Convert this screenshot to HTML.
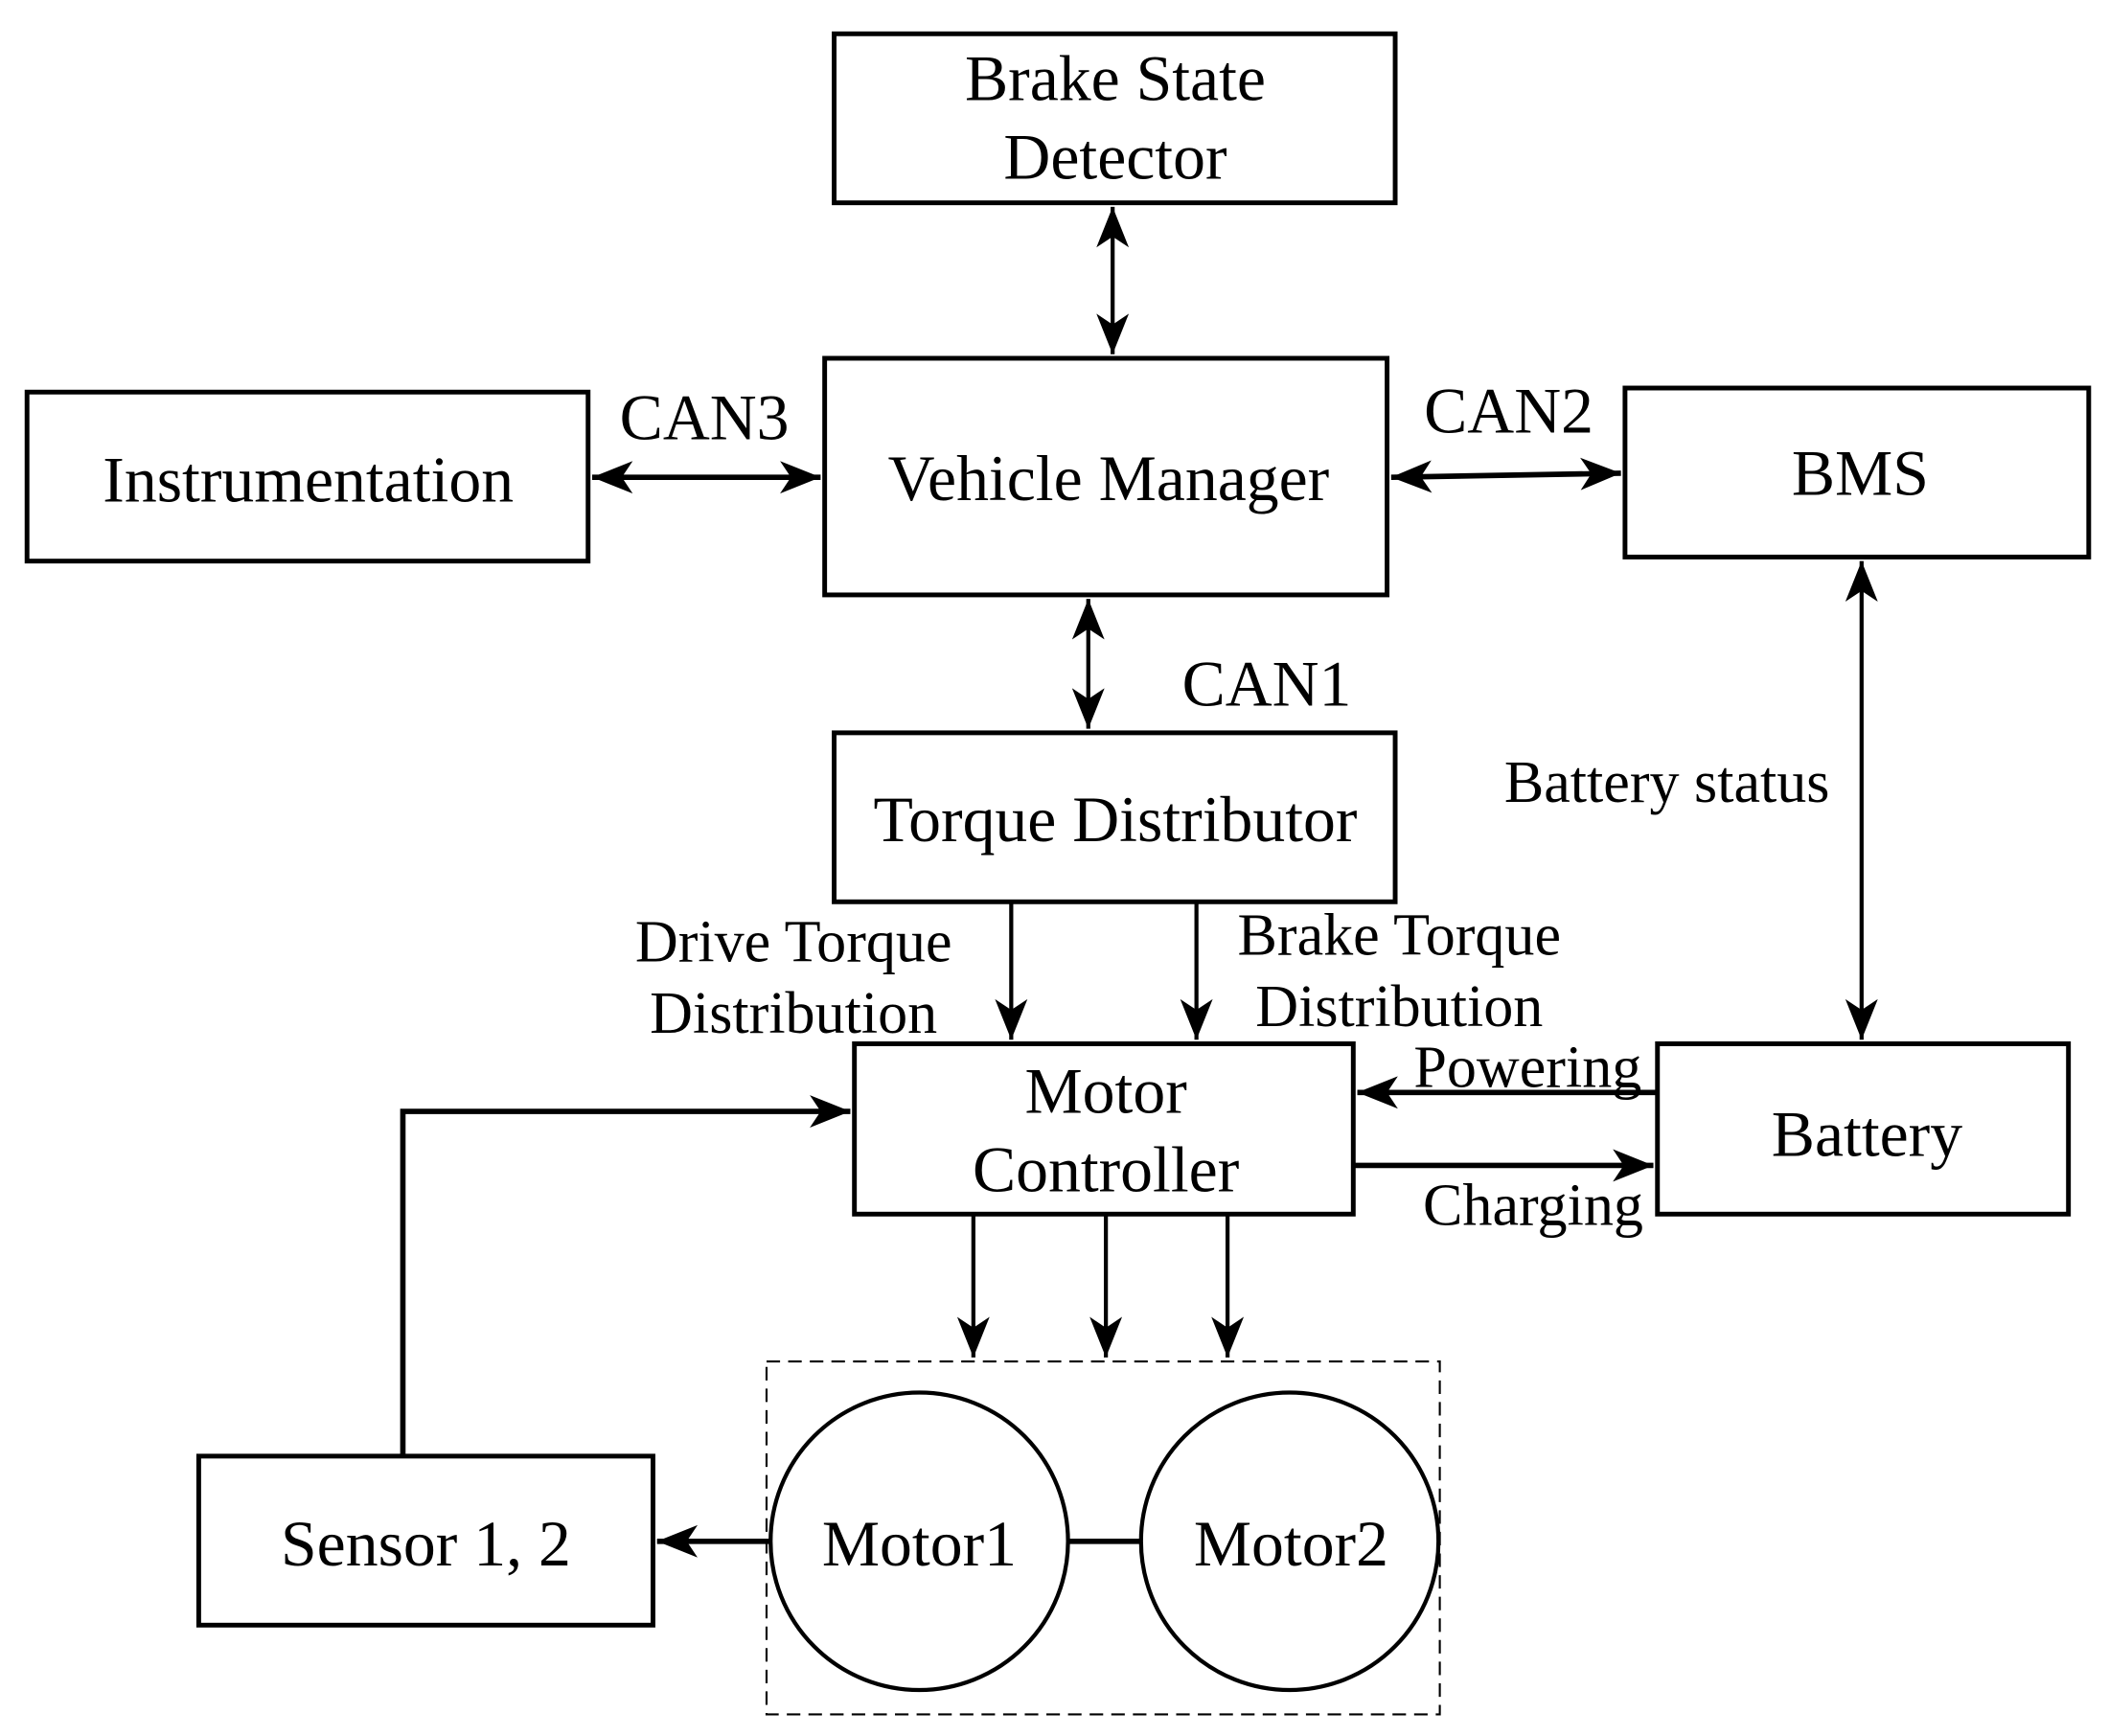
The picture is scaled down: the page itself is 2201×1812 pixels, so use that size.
<!DOCTYPE html>
<html><head><meta charset="utf-8"><style>
html,body{margin:0;padding:0;background:#fff;}
svg{display:block;}
text{font-family:"Liberation Serif",serif;fill:#000;text-anchor:middle;}
</style></head><body>
<svg width="2201" height="1812" viewBox="0 0 1560 1284" preserveAspectRatio="none" xmlns="http://www.w3.org/2000/svg">
<defs>
<marker id="a" viewBox="0 0 30 24" refX="30" refY="12" markerWidth="30" markerHeight="24" markerUnits="userSpaceOnUse" orient="auto-start-reverse">
<path d="M0,0 L30,12 L0,24 L8,12 z" fill="#000"/></marker>
</defs>
<g fill="none" stroke="#000" stroke-width="3.5">
<rect x="617" y="25" width="415" height="125"/>
<rect x="610" y="265" width="416" height="175"/>
<rect x="20" y="290" width="415" height="125"/>
<rect x="1202" y="287" width="343" height="125"/>
<rect x="617" y="542" width="415" height="125"/>
<rect x="632" y="772" width="369" height="126"/>
<rect x="1226" y="772" width="304" height="126"/>
<rect x="147" y="1077" width="336" height="125"/>
<circle cx="680" cy="1140" r="110" stroke-width="3"/>
<circle cx="954" cy="1140" r="110" stroke-width="3"/>
</g>
<rect x="567" y="1007" width="498" height="261" fill="none" stroke="#000" stroke-width="1.5" stroke-dasharray="10,6"/>
<g stroke="#000" fill="none" marker-start="url(#a)" marker-end="url(#a)">
<line x1="823" y1="153" x2="823" y2="262" stroke-width="3"/>
<line x1="438" y1="353" x2="607" y2="353" stroke-width="4"/>
<line x1="1029" y1="353" x2="1199" y2="350" stroke-width="4"/>
<line x1="805" y1="443" x2="805" y2="539" stroke-width="3"/>
<line x1="1377" y1="415" x2="1377" y2="769" stroke-width="3"/>
</g>
<g stroke="#000" fill="none" marker-end="url(#a)">
<line x1="748" y1="667" x2="748" y2="769" stroke-width="3"/>
<line x1="885" y1="667" x2="885" y2="769" stroke-width="3"/>
<line x1="1226" y1="808" x2="1004" y2="808" stroke-width="4"/>
<line x1="1001" y1="862" x2="1223" y2="862" stroke-width="4"/>
<polyline points="298,1077 298,822 629,822" stroke-width="4"/>
<line x1="720" y1="898" x2="720" y2="1004" stroke-width="3"/>
<line x1="818" y1="898" x2="818" y2="1004" stroke-width="3"/>
<line x1="908" y1="898" x2="908" y2="1004" stroke-width="3"/>
<line x1="570" y1="1140" x2="486" y2="1140" stroke-width="4"/>
</g>
<line x1="790" y1="1140" x2="843" y2="1140" stroke="#000" stroke-width="4"/>
<g font-size="48">
<text x="825" y="74">Brake State</text>
<text x="825" y="132">Detector</text>
<text x="820" y="370">Vehicle Manager</text>
<text x="228" y="371">Instrumentation</text>
<text x="1376" y="366">BMS</text>
<text x="825" y="622">Torque Distributor</text>
<text x="818" y="823">Motor</text>
<text x="818" y="881">Controller</text>
<text x="1381" y="855">Battery</text>
<text x="315" y="1158">Sensor 1, 2</text>
<text x="680" y="1158">Motor1</text>
<text x="955" y="1158">Motor2</text>
<text x="521" y="325">CAN3</text>
<text x="1116" y="320">CAN2</text>
<text x="937" y="522">CAN1</text>
</g>
<g font-size="44">
<text x="1233" y="593">Battery status</text>
<text x="587" y="711">Drive Torque</text>
<text x="587" y="764">Distribution</text>
<text x="1035" y="706">Brake Torque</text>
<text x="1035" y="759">Distribution</text>
<text x="1130" y="804">Powering</text>
<text x="1134" y="906">Charging</text>
</g>
</svg>
</body></html>
